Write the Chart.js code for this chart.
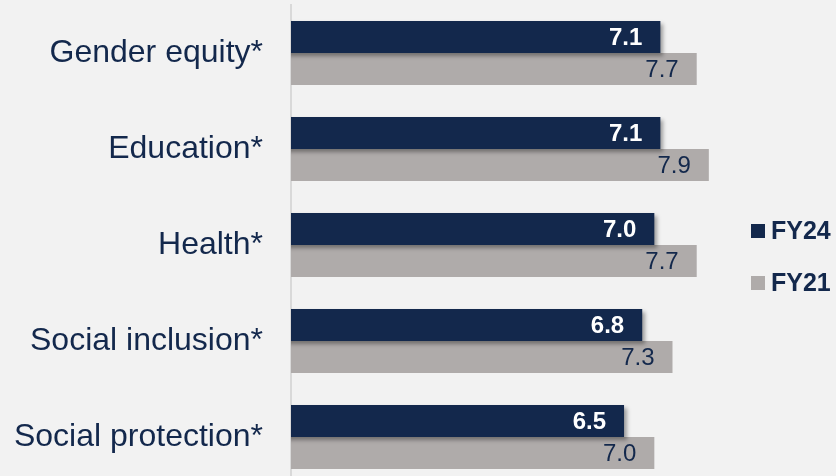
<!DOCTYPE html>
<html>
<head>
<meta charset="utf-8">
<script src="https://cdn.jsdelivr.net/npm/chart.js@4"></script>
<style>
  html, body { margin: 0; padding: 0; background: #f2f2f2; overflow: hidden; }
  #wrap { width: 836px; height: 490px; position: relative; }
</style>
</head>
<body>
<div id="wrap"><canvas id="canvas"></canvas></div>
<script>
var categories = ['Gender equity*', 'Education*', 'Health*', 'Social inclusion*', 'Social protection*'];
var fy24 = [7.1, 7.1, 7.0, 6.8, 6.5];
var fy21 = [7.7, 7.9, 7.7, 7.3, 7.0];
var seriesNames = ['FY24', 'FY21'];

var navy = '#13284c';
var grey = '#afabaa';

// shadow behind the navy bars
var barShadow = {
  id: 'barShadow',
  beforeDatasetDraw: function(chart, args) {
    if (args.index === 0) {
      var ctx = chart.ctx;
      ctx.save();
      ctx.shadowColor = 'rgba(0,0,0,0.35)';
      ctx.shadowBlur = 4;
      ctx.shadowOffsetX = 3;
      ctx.shadowOffsetY = 3;
    }
  },
  afterDatasetDraw: function(chart, args) {
    if (args.index === 0) chart.ctx.restore();
  }
};

// value labels inside the bar ends + legend on the right
var labelsAndLegend = {
  id: 'labelsAndLegend',
  afterDatasetsDraw: function(chart) {
    var ctx = chart.ctx;
    ctx.save();
    ctx.textAlign = 'right';
    ctx.textBaseline = 'middle';
    chart.data.datasets.forEach(function(ds, i) {
      var meta = chart.getDatasetMeta(i);
      meta.data.forEach(function(bar, j) {
        if (i === 0) {
          ctx.font = 'bold 24px "Liberation Sans", Arial, sans-serif';
          ctx.fillStyle = '#ffffff';
        } else {
          ctx.font = '24px "Liberation Sans", Arial, sans-serif';
          ctx.fillStyle = navy;
        }
        ctx.fillText(ds.data[j].toFixed(1), bar.x - 18, bar.y + 1);
      });
    });
    // legend
    var ly = [231, 283];
    var cols = [navy, grey];
    ctx.textAlign = 'left';
    ctx.font = 'bold 25px "Liberation Sans", Arial, sans-serif';
    for (var k = 0; k < seriesNames.length; k++) {
      ctx.fillStyle = cols[k];
      ctx.fillRect(751, ly[k] - 7, 14, 14);
      ctx.fillStyle = navy;
      ctx.fillText(seriesNames[k], 771, ly[k] + 1);
    }
    ctx.restore();
  }
};

window.onload = function() {
  var ctx = document.getElementById('canvas').getContext('2d');
  window.myBar = new Chart(ctx, {
    type: 'bar',
    data: {
      labels: categories,
      datasets: [{
        label: seriesNames[0],
        data: fy24,
        backgroundColor: navy,
        categoryPercentage: 0.667,
        barPercentage: 1.0
      }, {
        label: seriesNames[1],
        data: fy21,
        backgroundColor: grey,
        categoryPercentage: 0.667,
        barPercentage: 1.0
      }]
    },
    options: {
      indexAxis: 'y',
      responsive: true,
      maintainAspectRatio: false,
      animation: false,
      layout: { padding: { top: 5, bottom: 5, left: 0, right: 0 } },
      plugins: {
        legend: { display: false },
        tooltip: { enabled: false }
      },
      scales: {
        x: {
          min: 1,
          max: 10,
          display: false
        },
        y: {
          grid: { display: false, drawTicks: false },
          border: { display: true, color: '#d9d9d9', width: 2 },
          ticks: {
            color: navy,
            padding: 28,
            font: { family: '"Liberation Sans", Arial, sans-serif', size: 32 }
          },
          afterFit: function(scale) {
            scale.width = 291;
            scale.paddingTop = 0;
            scale.paddingBottom = 0;
          }
        }
      }
    },
    plugins: [barShadow, labelsAndLegend]
  });
};
</script>
</body>
</html>
